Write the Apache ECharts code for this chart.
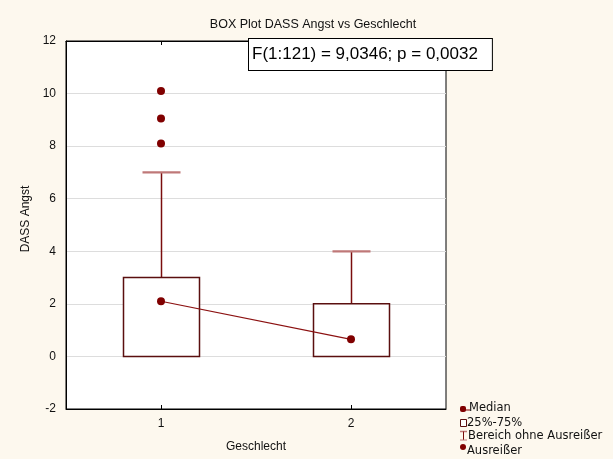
<!DOCTYPE html>
<html>
<head>
<meta charset="utf-8">
<script src="https://cdn.jsdelivr.net/npm/echarts@6/dist/echarts.min.js"></script>
<style>
  html, body { margin: 0; padding: 0; background: #fdf8ee; }
  #chart { width: 613px; height: 459px; }
</style>
</head>
<body>
<div id="chart"></div>
<script>
// Groups on the x axis
const categories = ['1', '2'];
// Whisker range without outliers and quartiles per group
const whiskerLow = [0, 0];
const quartile1 = [0, 0];
const quartile3 = [3, 2];
const whiskerHigh = [7, 4];
// Medians per group
const medians = [2.1, 0.65];
// Outliers (group index, value)
const outliers = [[0, 10.1], [0, 9.05], [0, 8.1]];
// Y axis ticks
const yMin = -2, yMax = 12, yStep = 2;

const FONT = '"Liberation Sans", Arial, sans-serif';
const WIDE = '"DejaVu Sans", sans-serif';
const DARK = '#800000';

const boxData = categories.map((c, i) => [i, whiskerLow[i], quartile1[i], quartile3[i], whiskerHigh[i]]);

const chart = echarts.init(document.getElementById('chart'));

chart.setOption({
  backgroundColor: '#fdf8ee',
  animation: false,
  title: {
    text: 'BOX Plot DASS Angst vs Geschlecht',
    left: 308, top: 13, textAlign: 'center',
    textStyle: { fontFamily: FONT, fontSize: 12.5, fontWeight: 'normal', color: '#111' }
  },
  grid: {
    left: 66, right: 167, top: 41, bottom: 50,
    show: true, backgroundColor: '#ffffff', borderColor: '#000', borderWidth: 1
  },
  xAxis: [{
    type: 'category',
    data: categories,
    boundaryGap: true,
    name: 'Geschlecht',
    nameLocation: 'middle',
    nameGap: 32,
    nameTextStyle: { fontFamily: FONT, fontSize: 12, color: '#111' },
    axisLine: { show: true, onZero: false, lineStyle: { color: '#000', width: 1 } },
    axisTick: { show: true, inside: true, alignWithLabel: true, length: 4, lineStyle: { color: '#000' } },
    axisLabel: { fontFamily: FONT, fontSize: 12, color: '#111', margin: 9 },
    splitLine: { show: false }
  }, {
    type: 'category',
    data: categories,
    position: 'top',
    boundaryGap: true,
    axisLine: { show: true, onZero: false, lineStyle: { color: '#000', width: 1 } },
    axisTick: { show: true, inside: true, alignWithLabel: true, length: 4, lineStyle: { color: '#000' } },
    axisLabel: { show: false },
    splitLine: { show: false }
  }],
  yAxis: {
    type: 'value',
    min: yMin, max: yMax, interval: yStep,
    name: 'DASS Angst',
    nameLocation: 'middle',
    nameGap: 22,
    nameTextStyle: { fontFamily: FONT, fontSize: 12, color: '#111', padding: [0, 0, 0, 12] },
    axisLine: { show: true, onZero: false, lineStyle: { color: '#000', width: 1 } },
    axisTick: { show: false },
    axisLabel: { fontFamily: FONT, fontSize: 12, color: '#111', margin: 10 },
    splitLine: { show: true, lineStyle: { color: '#dddddd', width: 1 } }
  },
  series: [{
    type: 'custom',
    data: boxData,
    z: 2,
    renderItem: function (params, api) {
      const x = api.value(0);
      const lo = api.value(1), q1 = api.value(2), q3 = api.value(3), hi = api.value(4);
      const bw = api.size([1, 0])[0] * 0.4;
      const capW = bw * 0.5;
      const pLo = api.coord([x, lo]);
      const pQ1 = api.coord([x, q1]);
      const pQ3 = api.coord([x, q3]);
      const pHi = api.coord([x, hi]);
      const cx = Math.round(pQ1[0]) + 0.5;
      return {
        type: 'group',
        children: [
          { type: 'line', shape: { x1: cx, y1: pQ3[1], x2: cx, y2: pHi[1] },
            style: { stroke: '#7a0d0d', lineWidth: 1.5 } },
          { type: 'line', shape: { x1: cx, y1: pQ1[1], x2: cx, y2: pLo[1] },
            style: { stroke: '#7a0d0d', lineWidth: 1.5 } },
          { type: 'line', shape: { x1: cx - capW / 2, y1: pHi[1], x2: cx + capW / 2, y2: pHi[1] },
            style: { stroke: '#bf7878', lineWidth: 2.2 } },
          { type: 'line', shape: { x1: cx - capW / 2, y1: pLo[1], x2: cx + capW / 2, y2: pLo[1] },
            style: { stroke: '#bf7878', lineWidth: 2.2, opacity: lo < q1 ? 1 : 0 } },
          { type: 'rect', shape: { x: cx - bw / 2, y: pQ3[1], width: bw, height: pQ1[1] - pQ3[1] },
            style: { fill: '#ffffff', stroke: '#5a0f0f', lineWidth: 1.5 } }
        ]
      };
    }
  }, {
    type: 'line',
    data: medians,
    z: 3,
    symbol: 'circle',
    symbolSize: 8,
    itemStyle: { color: DARK, opacity: 1 },
    lineStyle: { color: '#8b1010', width: 1.2 }
  }, {
    type: 'scatter',
    data: outliers,
    z: 3,
    symbol: 'circle',
    symbolSize: 8,
    itemStyle: { color: DARK, opacity: 1 }
  }],
  graphic: [
    {
      type: 'text', left: 248, top: 38, z: 10,
      style: {
        text: 'F(1:121) = 9,0346; p = 0,0032',
        font: '17px ' + FONT, fill: '#000',
        backgroundColor: '#ffffff', borderColor: '#000', borderWidth: 1,
        padding: [7, 14, 7, 3]
      }
    },
    // legend: median
    { type: 'rect', shape: { x: 460, y: 406, width: 6, height: 6, r: 2 }, style: { fill: DARK } },
    { type: 'line', shape: { x1: 465, y1: 410, x2: 470, y2: 410 }, style: { stroke: DARK, lineWidth: 1 } },
    { type: 'text', x: 469, y: 408, style: { text: 'Median', font: '11.5px ' + WIDE, fill: '#111', verticalAlign: 'middle' } },
    // legend: box
    { type: 'rect', shape: { x: 460.5, y: 419.5, width: 6, height: 7 }, style: { fill: '#fff', stroke: '#5a0f0f', lineWidth: 1 } },
    { type: 'text', x: 467, y: 423, style: { text: '25%-75%', font: '11.5px ' + WIDE, fill: '#111', verticalAlign: 'middle' } },
    // legend: whisker
    { type: 'line', shape: { x1: 460, y1: 431.5, x2: 467, y2: 431.5 }, style: { stroke: '#bf7878', lineWidth: 1.5 } },
    { type: 'line', shape: { x1: 463.5, y1: 431.5, x2: 463.5, y2: 440 }, style: { stroke: '#7a0d0d', lineWidth: 1 } },
    { type: 'line', shape: { x1: 460, y1: 440, x2: 467, y2: 440 }, style: { stroke: '#bf7878', lineWidth: 1 } },
    { type: 'text', x: 468, y: 436, style: { text: 'Bereich ohne Ausreißer', font: '11.5px ' + WIDE, fill: '#111', verticalAlign: 'middle' } },
    // legend: outliers
    { type: 'circle', shape: { cx: 463, cy: 447, r: 3 }, style: { fill: DARK } },
    { type: 'text', x: 467, y: 451, style: { text: 'Ausreißer', font: '11.5px ' + WIDE, fill: '#111', verticalAlign: 'middle' } }
  ]
});
</script>
</body>
</html>
